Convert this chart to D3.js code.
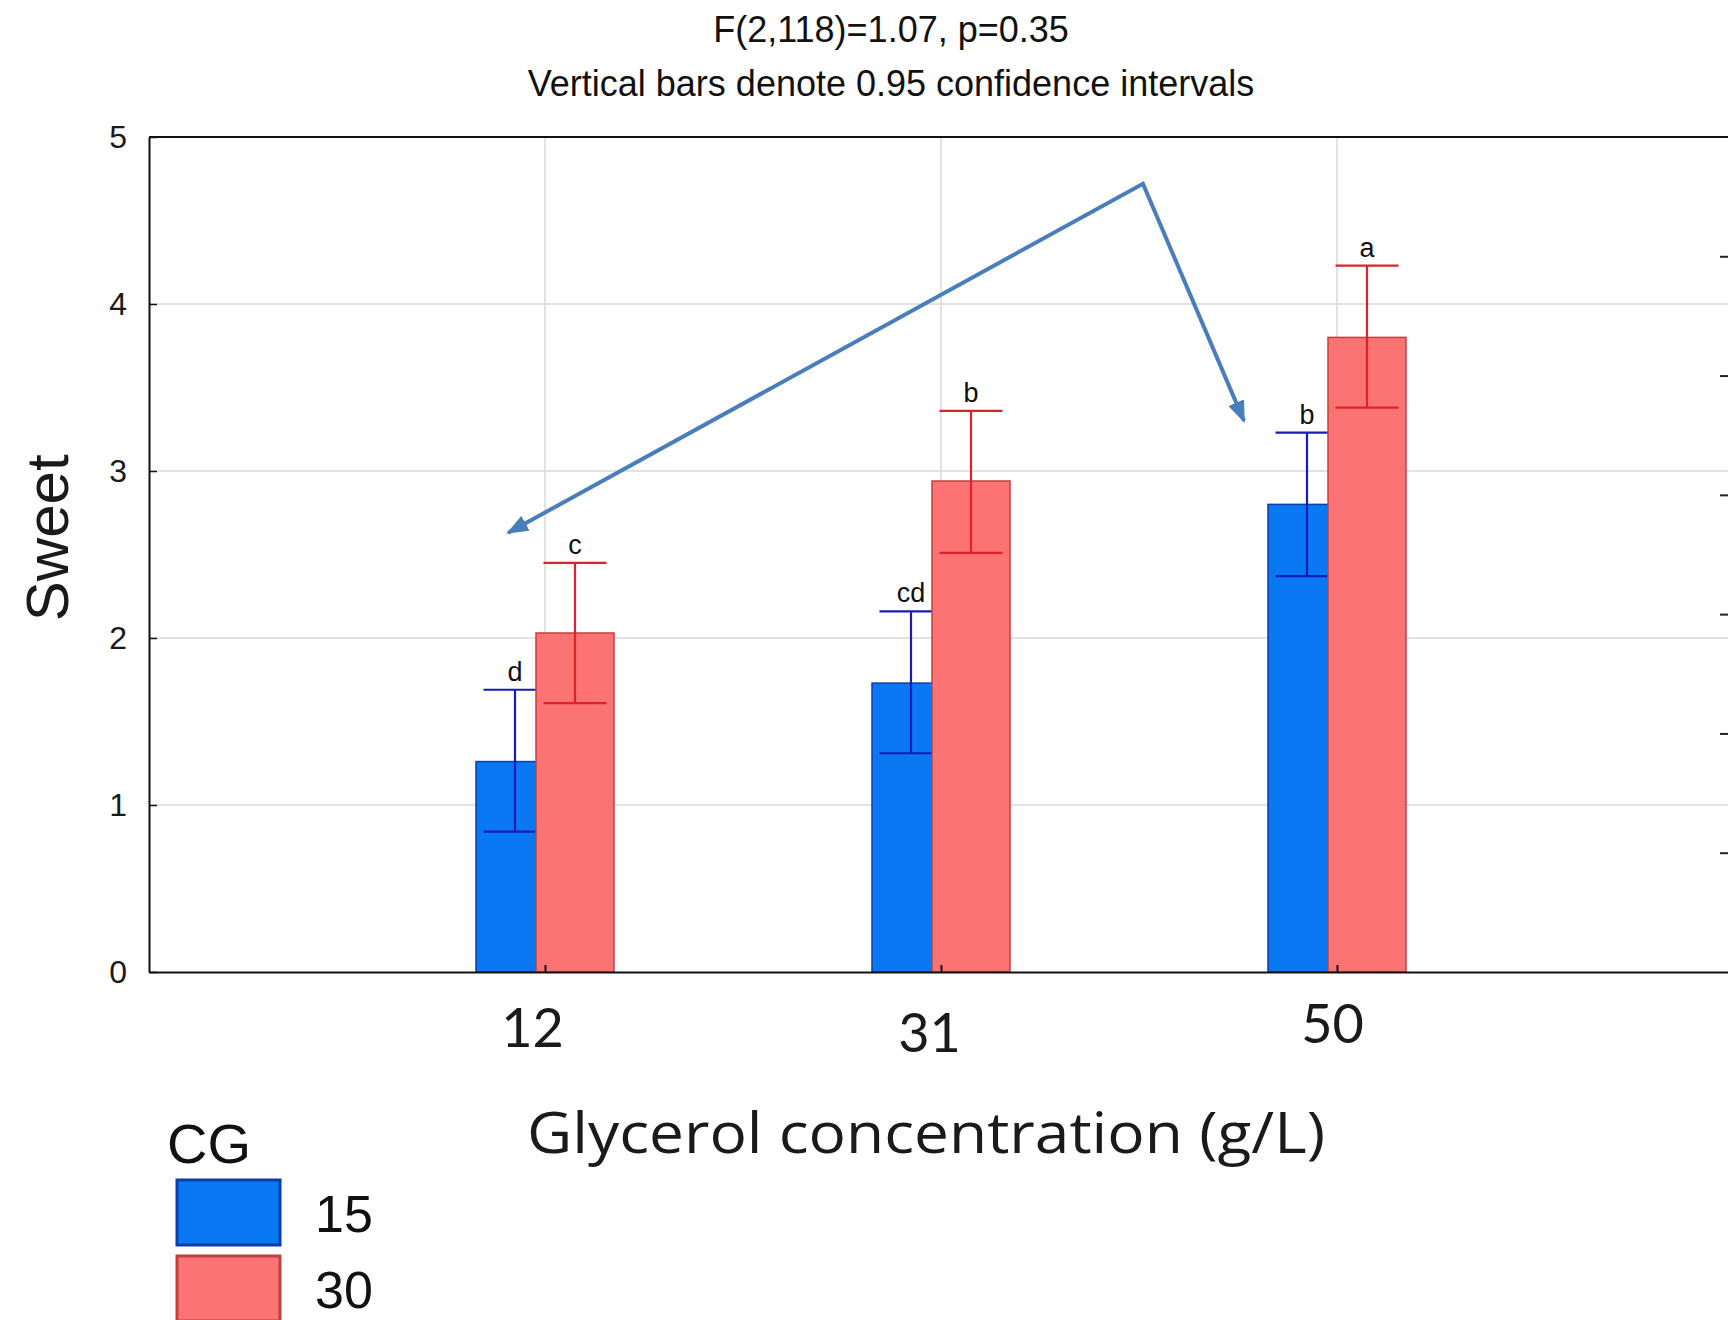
<!DOCTYPE html>
<html>
<head>
<meta charset="utf-8">
<script src="https://cdn.jsdelivr.net/npm/d3@7"></script>
<style>
body{ margin:0; background:#fff; }
svg{ display:block; font-family:"Liberation Sans", Arial, sans-serif; }
</style>
</head>
<body>
<div id="chart"></div>
<script>
// glycerol concentration groups and CG series
var categories = ["12", "31", "50"];
var series = ["15", "30"];

// means and 0.95 confidence limits
var means15 = [1.26, 1.73, 2.80];
var lower15 = [0.84, 1.31, 2.37];
var upper15 = [1.69, 2.16, 3.23];
var means30 = [2.03, 2.94, 3.80];
var lower30 = [1.61, 2.51, 3.38];
var upper30 = [2.45, 3.36, 4.23];

var letters15 = ["d", "cd", "b"];
var letters30 = ["c", "b", "a"];

var yTicks = [0, 1, 2, 3, 4, 5];
var rightTicks = [1, 2, 3, 4, 5, 6];
var titleLines = ["F(2,118)=1.07, p=0.35", "Vertical bars denote 0.95 confidence intervals"];

// annotation arrow, in (slot, value) units
var arrowSlots = [0.907, 2.51, 2.765];
var arrowValues = [2.63, 4.72, 3.30];

var width = 1728, height = 1320;
var margin = { top: 137, left: 149, bottom: 972 };

var colors = { "15": "#0a78f2", "30": "#fb7373" };
var edges = { "15": "#0b3ea6", "30": "#c04040" };
var whisk = { "15": "#1a1ab4", "30": "#e0202a" };

var svg = d3.select("#chart").append("svg")
	.attr("width", width)
	.attr("height", height);

svg.append("rect").attr("width", width).attr("height", height).attr("fill", "#fff");

var x = d3.scaleLinear().domain([0, 4]).range([margin.left, margin.left + 4 * 396]);
var y = d3.scaleLinear().domain([0, 5]).range([margin.bottom, margin.top]);
var yRight = d3.scaleLinear().domain([0, 7]).range([margin.bottom, margin.top]);
var offset = d3.scalePoint().domain(series).range([-30, 30]);
var barW = 78, capW = 63;

var slot = function(i){ return i + 1; };

// grid
svg.append("g").selectAll("line")
		.data(yTicks.filter(function(t){ return t > 0 && t < 5; }))
	.enter().append("line")
		.attr("x1", x(0)).attr("x2", x(4))
		.attr("y1", function(d){ return y(d); })
		.attr("y2", function(d){ return y(d); })
		.attr("stroke", "#dadada").attr("stroke-width", 1.5);

svg.append("g").selectAll("line")
		.data(categories)
	.enter().append("line")
		.attr("x1", function(d, i){ return x(slot(i)); })
		.attr("x2", function(d, i){ return x(slot(i)); })
		.attr("y1", y(5)).attr("y2", y(0))
		.attr("stroke", "#dadada").attr("stroke-width", 1.5);

// top frame
svg.append("line")
	.attr("x1", x(0)).attr("x2", x(4))
	.attr("y1", y(5)).attr("y2", y(5))
	.attr("stroke", "#111").attr("stroke-width", 2);

// bars + whiskers, series by series so the red bars sit over the blue ones
var groups = [
	{ key: "15", means: means15, lo: lower15, hi: upper15, letters: letters15 },
	{ key: "30", means: means30, lo: lower30, hi: upper30, letters: letters30 }
];

groups.forEach(function(s){
	var g = svg.append("g").attr("class", "series-" + s.key);
	var cx = function(i){ return x(slot(i)) + offset(s.key); };

	g.selectAll("rect")
			.data(s.means)
		.enter().append("rect")
			.attr("x", function(d, i){ return cx(i) - barW / 2; })
			.attr("y", function(d){ return y(d); })
			.attr("width", barW)
			.attr("height", function(d){ return y(0) - y(d); })
			.attr("fill", colors[s.key])
			.attr("stroke", edges[s.key])
			.attr("stroke-width", 1.5);

	var e = g.selectAll(".err")
			.data(s.means)
		.enter().append("g")
			.attr("class", "err")
			.attr("stroke", whisk[s.key])
			.attr("stroke-width", 2.2);

	e.append("line")
		.attr("x1", function(d, i){ return cx(i); })
		.attr("x2", function(d, i){ return cx(i); })
		.attr("y1", function(d, i){ return y(s.hi[i]); })
		.attr("y2", function(d, i){ return y(s.lo[i]); });
	e.append("line")
		.attr("x1", function(d, i){ return cx(i) - capW / 2; })
		.attr("x2", function(d, i){ return cx(i) + capW / 2; })
		.attr("y1", function(d, i){ return y(s.hi[i]); })
		.attr("y2", function(d, i){ return y(s.hi[i]); });
	e.append("line")
		.attr("x1", function(d, i){ return cx(i) - capW / 2; })
		.attr("x2", function(d, i){ return cx(i) + capW / 2; })
		.attr("y1", function(d, i){ return y(s.lo[i]); })
		.attr("y2", function(d, i){ return y(s.lo[i]); });

	s.cx = cx;
});

// significance letters
groups.forEach(function(s){
	svg.append("g").selectAll("text")
			.data(s.letters)
		.enter().append("text")
			.attr("x", function(d, i){ return s.cx(i); })
			.attr("y", function(d, i){ return y(s.hi[i]) - 9; })
			.attr("text-anchor", "middle")
			.attr("font-size", 27)
			.attr("fill", "#111")
			.text(function(d){ return d; });
});

// axes
var yAxis = svg.append("g")
	.attr("transform", "translate(" + margin.left + ",0)")
	.call(d3.axisLeft(y).tickValues(yTicks).tickFormat(d3.format("d"))
		.tickSize(-8).tickSizeOuter(0).tickPadding(22));
yAxis.select(".domain").attr("stroke", "#111").attr("stroke-width", 2);
yAxis.selectAll(".tick line").attr("stroke", "#111").attr("stroke-width", 1.5);
yAxis.selectAll("text").attr("font-size", 32).attr("fill", "#1a1a1a").attr("font-family", null);

var rAxis = svg.append("g")
	.attr("transform", "translate(" + x(4) + ",0)")
	.call(d3.axisRight(yRight).tickValues(rightTicks).tickSize(-13).tickSizeOuter(0).tickFormat(""));
rAxis.select(".domain").attr("stroke", "#111").attr("stroke-width", 2);
rAxis.selectAll(".tick line").attr("stroke", "#222").attr("stroke-width", 2);

var nudgeX = [-13, -12, -5], nudgeY = [75, 80, 71];
var xAxis = svg.append("g")
	.attr("transform", "translate(0," + margin.bottom + ")")
	.call(d3.axisBottom(x).tickValues([1, 2, 3]).tickSize(-7).tickSizeOuter(0)
		.tickFormat(function(d){ return categories[d - 1]; }));
xAxis.select(".domain").attr("stroke", "#111").attr("stroke-width", 2.2);
xAxis.selectAll(".tick line").attr("stroke", "#111").attr("stroke-width", 2);
xAxis.selectAll("text")
	.attr("dy", null)
	.attr("x", function(d, i){ return nudgeX[i]; })
	.attr("y", function(d, i){ return nudgeY[i]; })
	.attr("font-size", 54)
	.attr("font-family", "Lato, 'Open Sans', sans-serif")
	.attr("fill", "#1a1a1a");

// titles
svg.append("g").selectAll("text")
		.data(titleLines)
	.enter().append("text")
		.attr("x", 891)
		.attr("y", function(d, i){ return 42 + i * 54; })
		.attr("text-anchor", "middle")
		.attr("font-size", 36)
		.attr("fill", "#111")
		.text(function(d){ return d; });

svg.append("text")
	.attr("transform", "translate(68," + y(2.6) + ") rotate(-90)")
	.attr("text-anchor", "middle")
	.attr("font-size", 60)
	.attr("fill", "#1a1a1a")
	.text("Sweet");

svg.append("text")
	.attr("x", 926)
	.attr("y", 1153)
	.attr("text-anchor", "middle")
	.attr("font-family", "'Open Sans', Lato, sans-serif")
	.attr("font-size", 56)
	.attr("textLength", 798)
	.attr("lengthAdjust", "spacingAndGlyphs")
	.attr("fill", "#1a1a1a")
	.text("Glycerol concentration (g/L)");

// arrow annotation
var defs = svg.append("defs");
defs.append("marker")
	.attr("id", "head")
	.attr("viewBox", "0 0 10 10")
	.attr("refX", 9).attr("refY", 5)
	.attr("markerUnits", "userSpaceOnUse")
	.attr("markerWidth", 22).attr("markerHeight", 17)
	.attr("preserveAspectRatio", "none")
	.attr("orient", "auto-start-reverse")
	.append("path")
		.attr("d", "M0,0L10,5L0,10Z")
		.attr("fill", "#4a7ebb");

svg.append("path")
	.datum(d3.zip(arrowSlots, arrowValues))
	.attr("d", d3.line().x(function(d){ return x(d[0]); }).y(function(d){ return y(d[1]); }))
	.attr("fill", "none")
	.attr("stroke", "#4a7ebb")
	.attr("stroke-width", 4)
	.attr("marker-start", "url(#head)")
	.attr("marker-end", "url(#head)");

// legend
var legend = svg.append("g").attr("transform", "translate(167,0)");
legend.append("text")
	.attr("y", 1163)
	.attr("font-size", 56)
	.attr("fill", "#111")
	.text("CG");

var item = legend.selectAll(".item")
		.data(series)
	.enter().append("g")
		.attr("class", "item")
		.attr("transform", function(d, i){ return "translate(0," + (1180 + i * 76) + ")"; });
item.append("rect")
	.attr("x", 10).attr("width", 103).attr("height", 65)
	.attr("fill", function(d){ return colors[d]; })
	.attr("stroke", function(d){ return edges[d]; })
	.attr("stroke-width", 3);
item.append("text")
	.attr("x", 148).attr("y", 52)
	.attr("font-size", 52)
	.attr("fill", "#111")
	.text(function(d){ return d; });
</script>
</body>
</html>
